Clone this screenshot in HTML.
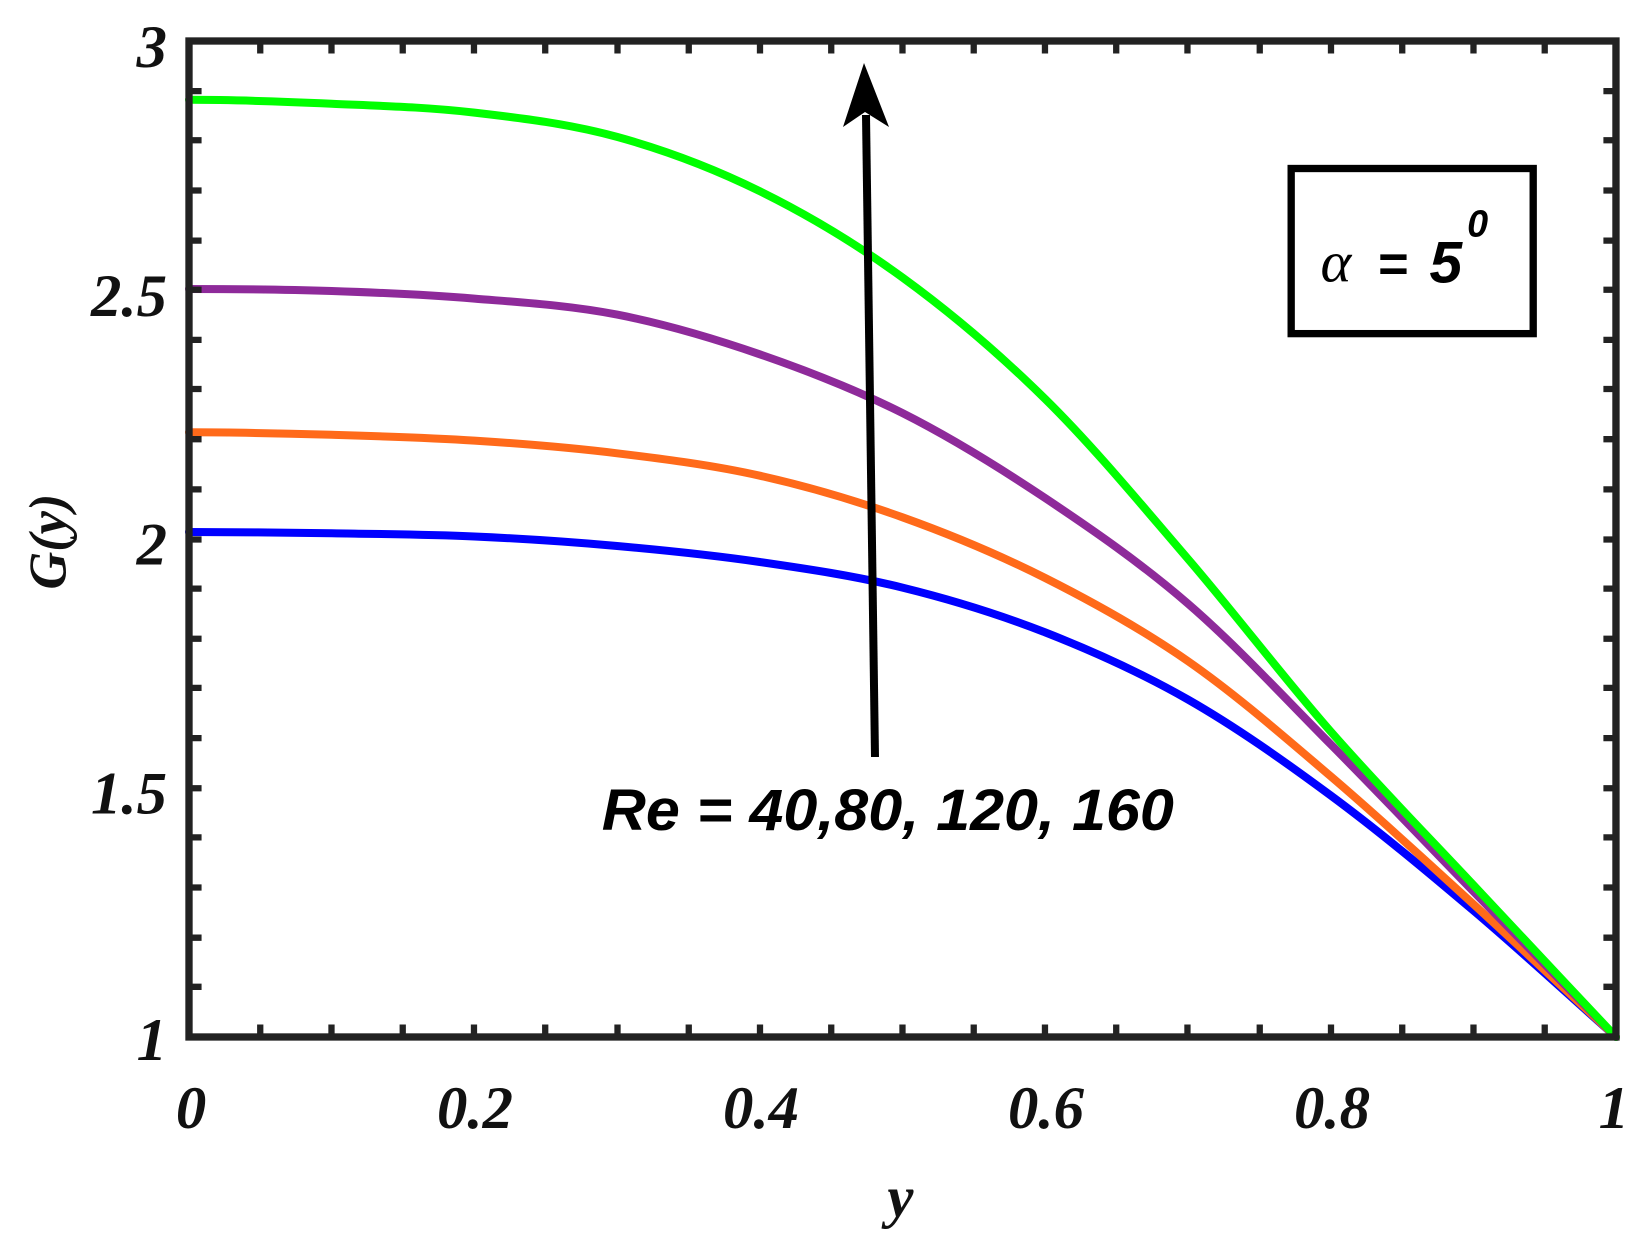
<!DOCTYPE html>
<html><head><meta charset="utf-8"><style>html,body{margin:0;padding:0;background:#fff}svg{display:block}</style></head>
<body>
<svg width="1646" height="1243" viewBox="0 0 1646 1243" xmlns="http://www.w3.org/2000/svg">
<rect width="1646" height="1243" fill="#fff"/>
<g fill="none" stroke-width="8" stroke-linejoin="round" stroke-linecap="round">
<path stroke="#0000ff" d="M189,532 C236.6,532 284.1,532.55 331.7,533.3 C379.3,534.05 426.8,534.38 474.4,536.5 C522,538.62 569.5,541.75 617.1,546 C664.7,550.25 712.2,555.07 759.8,562 C807.4,568.93 854.9,575.87 902.5,587.6 C950.1,599.33 997.6,613.75 1045.2,632.4 C1092.8,651.05 1140.3,672.33 1187.9,699.5 C1235.5,726.67 1283,760.23 1330.6,795.4 C1378.2,830.57 1425.7,870.23 1473.3,910.5 C1520.9,950.77 1568.4,994.83 1616,1037"/>
<path stroke="#ff6a1a" d="M189,432.3 C236.6,432.3 284.1,433.42 331.7,434.8 C379.3,436.18 426.8,437.52 474.4,440.6 C522,443.68 569.5,447.45 617.1,453.3 C664.7,459.15 712.2,465.03 759.8,475.7 C807.4,486.37 854.9,500.25 902.5,517.3 C950.1,534.35 997.6,554.03 1045.2,578 C1092.8,601.97 1140.3,628.07 1187.9,661.1 C1235.5,694.13 1283,735.7 1330.6,776.2 C1378.2,816.7 1425.7,860.63 1473.3,904.1 C1520.9,947.57 1568.4,992.7 1616,1037"/>
<path stroke="#8e2a9a" d="M189,289 C236.6,289 284.1,289.4 331.7,291 C379.3,292.6 426.8,294.67 474.4,298.6 C522,302.53 569.5,305.32 617.1,314.6 C664.7,323.88 712.2,337.88 759.8,354.3 C807.4,370.72 854.9,389.13 902.5,413.1 C950.1,437.07 997.6,466.35 1045.2,498.1 C1092.8,529.85 1140.3,562.58 1187.9,603.6 C1235.5,644.62 1283,696.25 1330.6,744.2 C1378.2,792.15 1425.7,842.5 1473.3,891.3 C1520.9,940.1 1568.4,988.43 1616,1037"/>
<path stroke="#00ff00" d="M189,99.8 C236.6,99.8 284.1,101.57 331.7,103.7 C379.3,105.83 426.8,107.07 474.4,112.6 C522,118.13 569.5,123.8 617.1,136.9 C664.7,150 712.2,167.77 759.8,191.2 C807.4,214.63 854.9,242.87 902.5,277.5 C950.1,312.13 997.6,352.12 1045.2,399 C1092.8,445.88 1140.3,503.4 1187.9,558.8 C1235.5,614.2 1283,677.05 1330.6,731.4 C1378.2,785.75 1425.7,833.97 1473.3,884.9 C1520.9,935.83 1568.4,986.3 1616,1037"/>
</g>
<g transform="translate(189,41) scale(1.0477,1.0451) translate(-178,-35)">
<rect x="178" y="35" width="1362" height="953" fill="none" stroke="#222" stroke-width="7"/>
<g stroke="#222" stroke-width="6">
<path d="M246,35v12M314,35v12M382,35v12M450,35v12M518,35v12M587,35v12M655,35v12M723,35v12M791,35v12M859,35v12M927,35v12M995,35v12M1063,35v12M1131,35v12M1200,35v12M1268,35v12M1336,35v12M1404,35v12M1472,35v12"/>
<path d="M246,988v-12M314,988v-12M382,988v-12M450,988v-12M518,988v-12M587,988v-12M655,988v-12M723,988v-12M791,988v-12M859,988v-12M927,988v-12M995,988v-12M1063,988v-12M1131,988v-12M1200,988v-12M1268,988v-12M1336,988v-12M1404,988v-12M1472,988v-12"/>
<path d="M178,83h12M178,130h12M178,178h12M178,226h12M178,273h12M178,321h12M178,368h12M178,416h12M178,464h12M178,512h12M178,559h12M178,607h12M178,654h12M178,702h12M178,750h12M178,797h12M178,845h12M178,893h12M178,940h12"/>
<path d="M1540,83h-12M1540,130h-12M1540,178h-12M1540,226h-12M1540,273h-12M1540,321h-12M1540,368h-12M1540,416h-12M1540,464h-12M1540,512h-12M1540,559h-12M1540,607h-12M1540,654h-12M1540,702h-12M1540,750h-12M1540,797h-12M1540,845h-12M1540,893h-12M1540,940h-12"/>
</g>
<g font-family="Liberation Serif, serif" font-style="italic" font-weight="bold" font-size="58" fill="#111">
<g text-anchor="end">
<text x="157" y="60">3</text><text x="157" y="298">2.5</text><text x="157" y="536">2</text><text x="157" y="774">1.5</text><text x="157" y="1010">1</text>
</g>
<g text-anchor="middle">
<text x="180" y="1075">0</text><text x="451" y="1075">0.2</text><text x="724" y="1075">0.4</text><text x="996" y="1075">0.6</text><text x="1269" y="1075">0.8</text><text x="1538" y="1075">1</text>
<text x="857" y="1160" font-size="56">y</text>
<text transform="translate(60,514) rotate(-90)" font-size="50">G(y)</text>
</g>
</g>
<rect x="1230" y="157" width="231" height="158" fill="none" stroke="#000" stroke-width="7"/>
<text x="1258" y="265" font-family="Liberation Serif, serif" font-style="italic" font-size="56">α</text>
<text x="1313" y="265" font-family="Liberation Sans, sans-serif" font-weight="bold" font-size="50">=</text>
<text x="1362" y="266" font-family="Liberation Sans, sans-serif" font-style="italic" font-weight="bold" font-size="56">5</text>
<text x="1398" y="222" font-family="Liberation Sans, sans-serif" font-style="italic" font-weight="bold" font-size="36">0</text>
<text x="572" y="790" font-family="Liberation Sans, sans-serif" font-style="italic" font-weight="bold" font-size="56" textLength="546" lengthAdjust="spacingAndGlyphs">Re = 40,80, 120, 160</text>
</g>
<path d="M875,757 L866,115" stroke="#000" stroke-width="8"/>
<path d="M864,63 L889,127 L865,112 L843,127 Z" fill="#000"/>
</svg>
</body></html>
